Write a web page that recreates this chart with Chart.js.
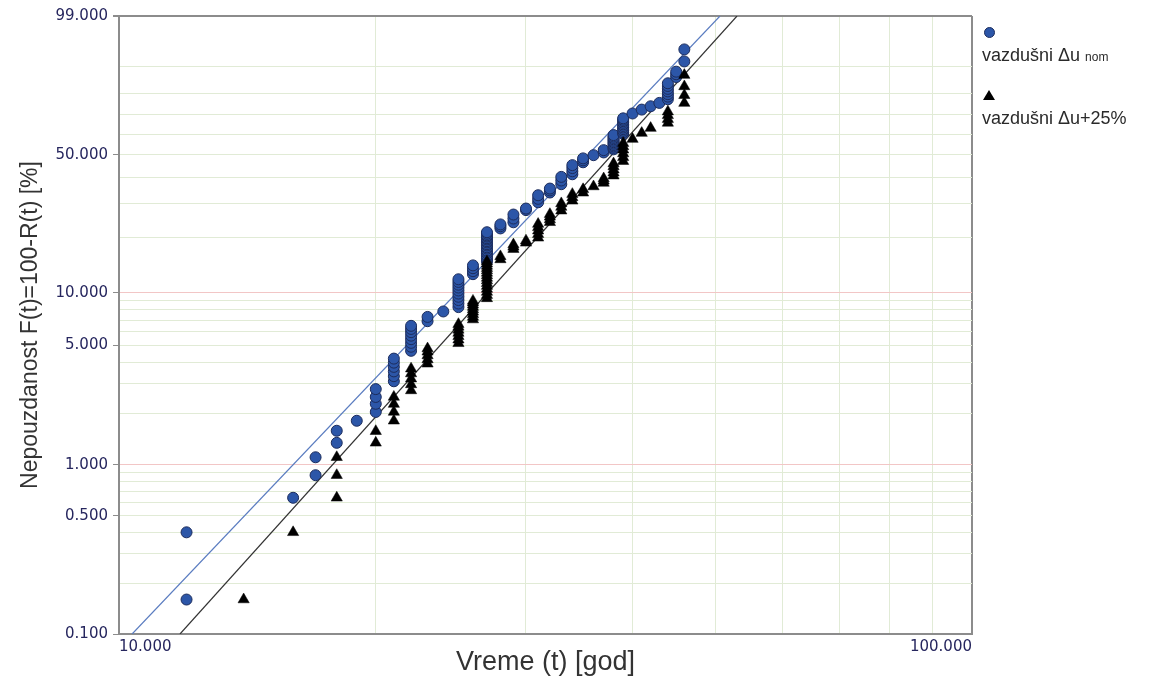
<!DOCTYPE html>
<html>
<head>
<meta charset="utf-8">
<title>Weibull</title>
<script src="https://cdn.jsdelivr.net/npm/chart.js@4.4.1/dist/chart.umd.min.js"></script>
<style>
    html, body { margin: 0; padding: 0; background: #fff; }
    #wrap { position: relative; width: 1151px; height: 683px; overflow: hidden; }
    #weibull-chart { position: absolute; left: 0; top: 0; }
    .lg-text {
        position: absolute;
        left: 982px;
        font-family: "Liberation Sans", Arial, sans-serif;
        font-size: 18px;
        line-height: 18px;
        color: #2a2a2a;
        white-space: nowrap;
    }
    .lg-text small { font-size: 12px; }
    #lg-circle {
        position: absolute; left: 984px; top: 27px; width: 11px; height: 11px;
        box-sizing: border-box; border-radius: 50%;
        background: #2c56a8; border: 1px solid #1c2c5c;
    }
    #lg-triangle {
        position: absolute; left: 983px; top: 90px; width: 0; height: 0;
        border-left: 6px solid transparent; border-right: 6px solid transparent;
        border-bottom: 10px solid #000;
    }
</style>
</head>
<body>
<div id="wrap">
    <canvas id="weibull-chart" width="1151" height="683"></canvas>
    <div id="lg-circle"></div>
    <div class="lg-text" style="top:46px">vazdušni Δu <small>nom</small></div>
    <div id="lg-triangle"></div>
    <div class="lg-text" style="top:109px">vazdušni Δu+25%</div>
</div>
<script>
// failure years (x) and unreliability F in %, one inner list per year
const nomYears = [12, 16, 17, 18, 19, 20, 21, 22, 23, 24, 25, 26, 27, 28, 29, 30,
    31, 32, 33, 34, 35, 36, 37, 38, 39, 40, 41, 42, 43, 44, 45, 46];
const nomF = [
    [0.16, 0.40],
    [0.64],
    [0.87, 1.11],
    [1.35, 1.59],
    [1.82],
    [2.05, 2.29, 2.51, 2.79],
    [3.10, 3.32, 3.54, 3.76, 3.98, 4.20],
    [4.66, 4.92, 5.18, 5.44, 5.70, 5.97, 6.23, 6.49],
    [6.9, 7.3],
    [7.84],
    [8.3, 8.7, 9.1, 9.5, 9.9, 10.3, 10.7, 11.1, 11.5, 11.9],
    [12.7, 13.2, 13.7, 14.2],
    [14.9, 15.2, 15.5, 15.8, 16.1, 16.5, 16.8, 17.1, 17.5, 17.8, 18.2, 18.5,
        18.9, 19.2, 19.6, 19.9, 20.3, 20.6, 21.0, 21.4],
    [22.4, 23.0, 23.5],
    [24.1, 25.2, 26.4],
    [27.8, 28.3],
    [30.4, 31.6, 32.9],
    [33.9, 34.7, 35.4],
    [37.1, 38.6, 40.1],
    [41.2, 42.5, 43.9, 45.2],
    [46.5, 47.4, 48.3],
    [49.8],
    [51.1, 52.2],
    [52.6, 53.3, 54.0, 54.7, 55.4, 56.1, 56.8, 57.5, 58.2, 58.9, 59.6],
    [60.2, 61.0, 61.8, 62.6, 63.4, 64.2, 65.0, 65.8, 66.6, 67.3, 68.0],
    [70.4],
    [72.3],
    [73.9],
    [75.5],
    [77.2, 78.4, 79.5, 80.7, 81.8, 83.0, 84.1],
    [86.5, 87.5, 88.4],
    [91.6, 94.6],
];

const plusYears = [14, 16, 18, 20, 21, 22, 23, 25, 26, 27, 28, 29, 30, 31, 32, 33,
    34, 35, 36, 37, 38, 39, 40, 41, 42, 44, 46];
const plusF = [
    [0.16],
    [0.40],
    [0.64, 0.87, 1.11],
    [1.35, 1.58],
    [1.82, 2.05, 2.28, 2.51],
    [2.74, 2.97, 3.21, 3.44, 3.67],
    [3.92, 4.15, 4.38, 4.60, 4.80],
    [5.15, 5.40, 5.65, 5.90, 6.15, 6.40, 6.63],
    [7.05, 7.30, 7.55, 7.80, 8.05, 8.30, 8.55, 8.80, 9.00],
    [9.3, 9.7, 10.1, 10.5, 10.9, 11.3, 11.7, 12.1, 12.5, 12.9, 13.3, 13.7, 14.1, 14.5, 14.9],
    [15.3, 15.9],
    [17.4, 17.9, 18.4],
    [18.8, 19.3],
    [20.0, 20.9, 21.8, 22.7, 23.6],
    [24.1, 24.9, 25.7, 26.5],
    [27.6, 28.8, 30.0],
    [30.9, 32.1, 33.3],
    [33.8, 35.1],
    [36.2],
    [37.6, 38.5, 39.4],
    [40.6, 41.9, 43.2, 44.6, 45.9],
    [47.0, 48.8, 50.6, 52.4, 54.0, 55.6],
    [57.6],
    [60.6],
    [63.1],
    [65.7, 67.6, 69.5, 71.3],
    [75.4, 79.0, 82.8, 87.2],
];

// fitted Weibull lines, given by their end points (year, F %)
const nomFitYears = [10.36, 50.65];
const nomFitF = [0.1, 99];
const plusFitYears = [11.79, 53.03];
const plusFitF = [0.1, 99];

const xGridYears = [10, 20, 30, 40, 50, 60, 70, 80, 90, 100];
const xLabelYears = [10, 100];
const yGridF = [0.1, 0.2, 0.3, 0.4, 0.5, 0.6, 0.7, 0.8, 0.9,
    1, 2, 3, 4, 5, 6, 7, 8, 9, 10, 20, 30, 40, 50, 60, 70, 80, 90, 99];
const yLabelF = [0.1, 0.5, 1, 5, 10, 50, 99];

const frameColor = '#8c8c8c';
const gridGreen = '#e1ebd6';
const gridRed = '#f2c6c6';
const tickInk = '#26265e';

// Weibull probability paper: ln(-ln(1 - F))
const weibullY = (f) => Math.log(-Math.log(1 - f / 100));

const toPoints = (years, values) =>
    years.flatMap((t, i) => values[i].map((f) => ({ x: t, y: weibullY(f) })));

const toLine = (years, values) => years.map((t, i) => ({ x: t, y: weibullY(values[i]) }));

const buildChart = () => {
    const ctx = document.getElementById('weibull-chart');
    if (!ctx || typeof Chart === 'undefined') return null;
    return new Chart(ctx, {
        type: 'scatter',
        data: {
            datasets: [
                {
                    label: 'vazdušni Δu+25%',
                    data: toPoints(plusYears, plusF),
                    pointStyle: 'triangle',
                    pointRadius: 6.5,
                    backgroundColor: '#000',
                    borderColor: '#000',
                    borderWidth: 0.5,
                    order: 1,
                },
                {
                    label: 'vazdušni Δu nom',
                    data: toPoints(nomYears, nomF),
                    pointStyle: 'circle',
                    pointRadius: 5.5,
                    backgroundColor: '#2c56a8',
                    borderColor: '#1c2c5c',
                    borderWidth: 1,
                    order: 2,
                },
                {
                    data: toLine(nomFitYears, nomFitF),
                    showLine: true,
                    pointRadius: 0,
                    borderColor: '#5a7cc0',
                    borderWidth: 1.2,
                    order: 3,
                },
                {
                    data: toLine(plusFitYears, plusFitF),
                    showLine: true,
                    pointRadius: 0,
                    borderColor: '#333',
                    borderWidth: 1.2,
                    order: 3,
                },
            ],
        },
        options: {
            responsive: false,
            animation: false,
            devicePixelRatio: 1,
            layout: { padding: { top: 16, right: 179, left: 0, bottom: 0 } },
            plugins: { legend: { display: false }, tooltip: { enabled: false } },
            scales: {
                x: {
                    type: 'logarithmic',
                    min: 10,
                    max: 100,
                    afterBuildTicks: (scale) => { scale.ticks = xGridYears.map((v) => ({ value: v })); },
                    afterFit: (scale) => { scale.height = 49; },
                    ticks: {
                        autoSkip: false,
                        maxRotation: 0,
                        align: 'inner',
                        padding: 4,
                        color: tickInk,
                        font: { family: 'DejaVu Sans', size: 15 },
                        callback: (v) => (xLabelYears.includes(v) ? v.toFixed(3) : ''),
                    },
                    grid: {
                        drawTicks: false,
                        color: (c) => (c.tick && c.tick.value === 100 ? frameColor : gridGreen),
                        lineWidth: (c) => (c.tick && c.tick.value === 100 ? 2 : 1),
                    },
                    border: { color: frameColor, width: 2 },
                    title: {
                        display: true,
                        text: 'Vreme (t) [god]',
                        color: '#333',
                        font: { family: 'Liberation Sans', size: 27 },
                        padding: { top: 0, bottom: 4 },
                    },
                },
                y: {
                    type: 'linear',
                    min: weibullY(0.1),
                    max: weibullY(99),
                    afterBuildTicks: (scale) => { scale.ticks = yGridF.map((f) => ({ value: weibullY(f), f })); },
                    afterFit: (scale) => { scale.width = 119; },
                    ticks: {
                        autoSkip: false,
                        padding: 5,
                        color: tickInk,
                        font: { family: 'DejaVu Sans', size: 15 },
                        callback: (v, i, ticks) => (yLabelF.includes(ticks[i].f) ? ticks[i].f.toFixed(3) : ''),
                    },
                    grid: {
                        tickLength: 6,
                        color: (c) => {
                            const f = c.tick && c.tick.f;
                            if (f === 99) return frameColor;
                            if (f === 1 || f === 10) return gridRed;
                            return gridGreen;
                        },
                        lineWidth: (c) => (c.tick && c.tick.f === 99 ? 2 : 1),
                        tickColor: (c) => (c.tick && yLabelF.includes(c.tick.f) ? frameColor : 'rgba(0,0,0,0)'),
                    },
                    border: { color: frameColor, width: 2 },
                    title: {
                        display: true,
                        text: 'Nepouzdanost F(t)=100-R(t) [%]',
                        color: '#333',
                        font: { family: 'Liberation Sans', size: 23 },
                        padding: { top: 17, bottom: 0 },
                    },
                },
            },
        },
    });
};

buildChart();
</script>
</body>
</html>
